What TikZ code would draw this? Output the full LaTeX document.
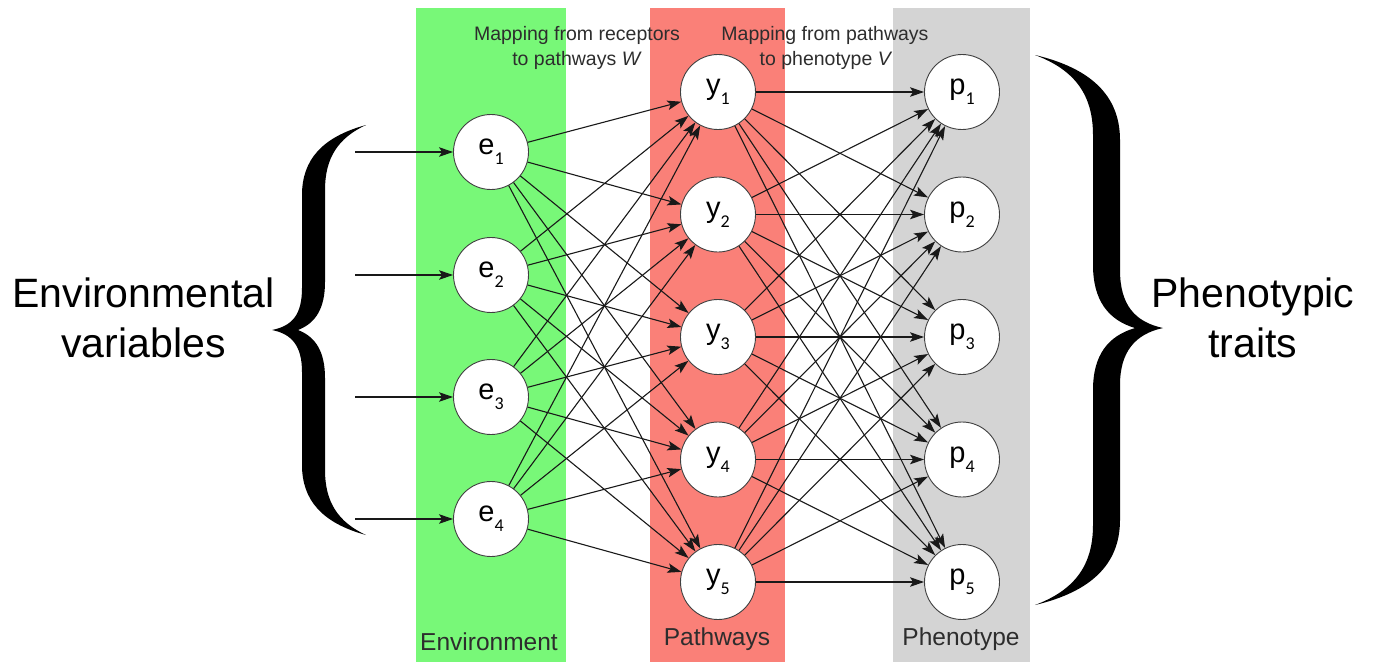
\documentclass[tikz,border=0pt]{standalone}
\usepackage{fontspec}
\setmainfont{Liberation Sans}
\newfontfamily\subf{Carlito}
\usetikzlibrary{arrows.meta}
\definecolor{bandgreen}{RGB}{120,248,120}
\definecolor{bandred}{RGB}{250,128,120}
\definecolor{bandgray}{RGB}{212,212,212}
\definecolor{txtgray}{RGB}{45,45,45}
\newcommand\nlab[2]{#1\raisebox{-0.34em}{\subf\fontsize{18}{18}\selectfont #2}}
\tikzset{
  unit/.style={circle, draw=black!75, line width=0.9pt, fill=white, minimum size=75pt, inner sep=0pt, font=\fontsize{29}{29}\selectfont},
  conn/.style={draw=black!90, line width=1.1pt, -{Stealth[length=14pt,width=9.5pt,inset=3pt]}},
  bandlab/.style={anchor=base, font=\fontsize{24.5}{24.5}\selectfont, text=txtgray},
  toplab/.style={anchor=base, font=\fontsize{19.5}{19.5}\selectfont, text=txtgray},
  biglab/.style={anchor=base, font=\fontsize{41}{50}\selectfont, text=black},
  bracefill/.style={fill=black, draw=none}
}
\begin{document}
\begin{tikzpicture}[x=1pt,y=-1pt]
\useasboundingbox (0,0) rectangle (1374,662);
% bands
\fill[bandgreen] (416,8) rectangle (566,662);
\fill[bandred] (650,8) rectangle (785,662);
\fill[bandgray] (893,8) rectangle (1030,662);
% band labels
\node[bandlab] (envlab) at (489,650) {Environment};
\node[bandlab] (pathlab) at (717,645) {Pathways};
\node[bandlab] (phenlab) at (961,645) {Phenotype};
% top labels
\node[toplab] (wlab1) at (577,40) {Mapping from receptors};
\node[toplab] (wlab2) at (577,65) {to pathways \textit{W}};
\node[toplab] (vlab1) at (825,40) {Mapping from pathways};
\node[toplab] (vlab2) at (826,65) {to phenotype \textit{V}};
% big labels
\node[biglab] (envvar1) at (143.5,307) {Environmental};
\node[biglab] (envvar2) at (143.5,357) {variables};
\node[biglab] (phen1) at (1253,307) {Phenotypic};
\node[biglab] (phen2) at (1253,357) {traits};
% braces
\path[bracefill] (366,125) .. controls (322,137) and (302,160) .. (302,195)
  -- (302,288) .. controls (302,315) and (292,326) .. (272,330)
  .. controls (292,334) and (302,346) .. (302,372)
  -- (302,465) .. controls (302,500) and (322,523) .. (366,535)
  .. controls (338,522) and (325,502) .. (325,470)
  -- (325,378) .. controls (325,352) and (316,337) .. (298,330)
  .. controls (316,323) and (325,308) .. (325,282)
  -- (325,190) .. controls (325,158) and (338,138) .. (366,125) -- cycle;
\path[bracefill] (1035,55) .. controls (1090,68) and (1120,95) .. (1120,140)
  -- (1120,270) .. controls (1120,305) and (1135,322) .. (1163,328)
  .. controls (1135,334) and (1120,352) .. (1120,385)
  -- (1120,520) .. controls (1120,565) and (1090,592) .. (1035,605)
  .. controls (1075,590) and (1093,565) .. (1093,525)
  -- (1093,390) .. controls (1093,355) and (1108,336) .. (1135,328)
  .. controls (1108,320) and (1093,300) .. (1093,265)
  -- (1093,135) .. controls (1093,95) and (1075,70) .. (1035,55) -- cycle;
% nodes
\foreach \i/\yy in {1/152,2/275,3/397,4/519}
  \node[unit] (e\i) at (491,\yy) {\nlab{e}{\i}};
\foreach \i/\yy in {1/92,2/214.5,3/337,4/459.5,5/582}
  \node[unit] (y\i) at (718,\yy) {\nlab{y}{\i}};
\foreach \i/\yy in {1/92,2/214.5,3/337,4/459.5,5/582}
  \node[unit] (p\i) at (962,\yy) {\nlab{p}{\i}};
% inputs
\foreach \i/\yy in {1/152,2/275,3/397,4/519} {
  \coordinate (in\i) at (355,\yy);
  \draw[conn] (in\i) -- (e\i);
}
% connections
\foreach \i in {1,...,4}
  \foreach \j in {1,...,5}
    \draw[conn] (e\i) -- (y\j);
\foreach \i in {1,...,5}
  \foreach \j in {1,...,5}
    \draw[conn] (y\i) -- (p\j);
\end{tikzpicture}
\end{document}
